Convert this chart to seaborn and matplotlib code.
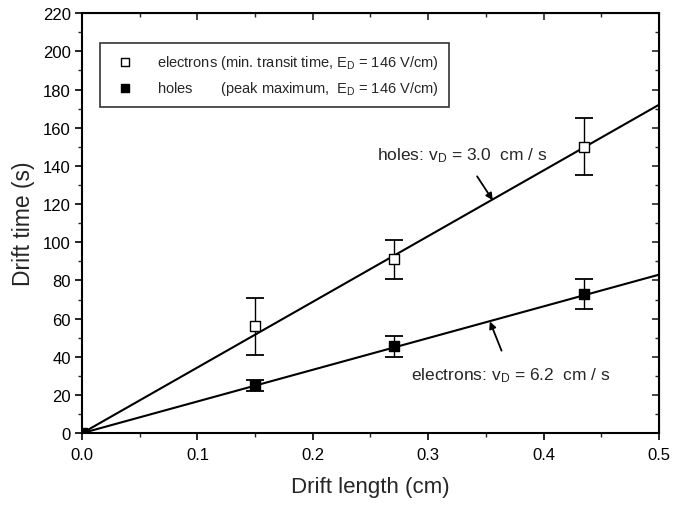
import matplotlib
matplotlib.use("Agg")
import matplotlib.pyplot as plt
import seaborn as sns
import pandas as pd

# Measured drift times
drift_length = [0.15, 0.27, 0.435]
electron_time = [56, 91, 150]
electron_err = [15, 10, 15]
hole_length = [0.0, 0.15, 0.27, 0.435]
hole_time = [0, 25, 45.5, 73]
hole_err = [0, 3, 5.5, 8]

# Linear fits through the origin
fit_length = [0.0, 0.5]
fit_upper = [0, 172]
fit_lower = [0, 83]

x_ticks = [0.0, 0.1, 0.2, 0.3, 0.4, 0.5]
x_minor = [0.05, 0.15, 0.25, 0.35, 0.45]
y_ticks = list(range(0, 221, 20))
y_minor = list(range(10, 220, 20))

sns.set_style("ticks")
plt.rcParams["font.family"] = ["Liberation Sans", "DejaVu Sans"]
plt.rcParams["mathtext.fontset"] = "custom"
plt.rcParams["mathtext.rm"] = "Liberation Sans"
plt.rcParams["mathtext.it"] = "Liberation Sans"

fig = plt.figure(figsize=(6.73, 5.06), dpi=100)
ax = fig.add_axes([0.122, 0.142, 0.857, 0.830])

fits = pd.DataFrame({"x": fit_length * 2,
                     "y": fit_upper + fit_lower,
                     "fit": ["upper"] * 2 + ["lower"] * 2})
sns.lineplot(data=fits, x="x", y="y", units="fit", estimator=None,
             color="black", lw=1.5, ax=ax, legend=False)

ax.errorbar(drift_length, electron_time, yerr=electron_err, fmt="none",
            ecolor="black", elinewidth=1.0, capsize=6.5, capthick=1.3, zorder=3)
ax.errorbar(hole_length, hole_time, yerr=hole_err, fmt="none",
            ecolor="black", elinewidth=1.0, capsize=6.5, capthick=1.3, zorder=3)

el = pd.DataFrame({"x": drift_length, "y": electron_time})
ho = pd.DataFrame({"x": hole_length, "y": hole_time})
sns.scatterplot(data=el, x="x", y="y", marker="s", s=45, facecolor="white",
                edgecolor="black", linewidth=1.0, ax=ax, zorder=4,
                label="electrons (min. transit time, E$_\\mathrm{D}$ = 146 V/cm)")
sns.scatterplot(data=ho, x="x", y="y", marker="s", s=50, color="black",
                edgecolor="black", linewidth=1.0, ax=ax, zorder=4,
                label="holes       (peak maximum,  E$_\\mathrm{D}$ = 146 V/cm)")

ax.set_xlim(0, 0.5)
ax.set_ylim(0, 220)
ax.set_xticks(x_ticks)
ax.set_xticklabels([f"{v:.1f}" for v in x_ticks])
ax.set_yticks(y_ticks)
ax.set_xticks(x_minor, minor=True)
ax.set_yticks(y_minor, minor=True)
ax.tick_params(which="major", direction="out", length=5, width=1.2,
               labelsize=12, colors="black")
ax.tick_params(axis="x", which="major", pad=5)
ax.tick_params(axis="y", which="major", pad=3)
ax.tick_params(which="minor", direction="out", length=3, width=1.0)
for s in ax.spines.values():
    s.set_visible(True)
    s.set_linewidth(1.5)
    s.set_color("black")

top = ax.secondary_xaxis("top")
top.set_xticks(x_ticks)
top.set_xticks(x_minor, minor=True)
top.tick_params(which="both", direction="in", labeltop=False)
top.tick_params(which="major", length=5, width=1.2)
top.tick_params(which="minor", length=3, width=1.0)
right = ax.secondary_yaxis("right")
right.set_yticks(y_ticks)
right.set_yticks(y_minor, minor=True)
right.tick_params(which="both", direction="in", labelright=False)
right.tick_params(which="major", length=5, width=1.2)
right.tick_params(which="minor", length=3, width=1.0)

ax.set_xlabel("Drift length (cm)", fontsize=16, labelpad=10)
ax.set_ylabel("Drift time (s)", fontsize=16.5, labelpad=6)

leg = ax.legend(loc="upper left", bbox_to_anchor=(0.031, 0.929), fontsize=10.5,
                frameon=True, fancybox=False, edgecolor="black",
                handlelength=2.0, handletextpad=1.2, borderpad=0.7,
                labelspacing=0.55, borderaxespad=0, markerscale=0.9)
leg.get_frame().set_linewidth(1.2)

ax.annotate("holes: v$_\\mathrm{D}$ = 3.0  cm / s", xy=(0.356, 122),
            xytext=(0.33, 146), ha="center", va="center", fontsize=12.5,
            arrowprops=dict(arrowstyle="-|>", color="black", lw=1.3,
                            mutation_scale=10, shrinkA=8, shrinkB=0))
ax.annotate("electrons: v$_\\mathrm{D}$ = 6.2  cm / s", xy=(0.3535, 58.5),
            xytext=(0.372, 30.5), ha="center", va="center", fontsize=12.5,
            arrowprops=dict(arrowstyle="-|>", color="black", lw=1.3,
                            mutation_scale=10, shrinkA=9, shrinkB=0))

fig.savefig("out.png", dpi=100)
